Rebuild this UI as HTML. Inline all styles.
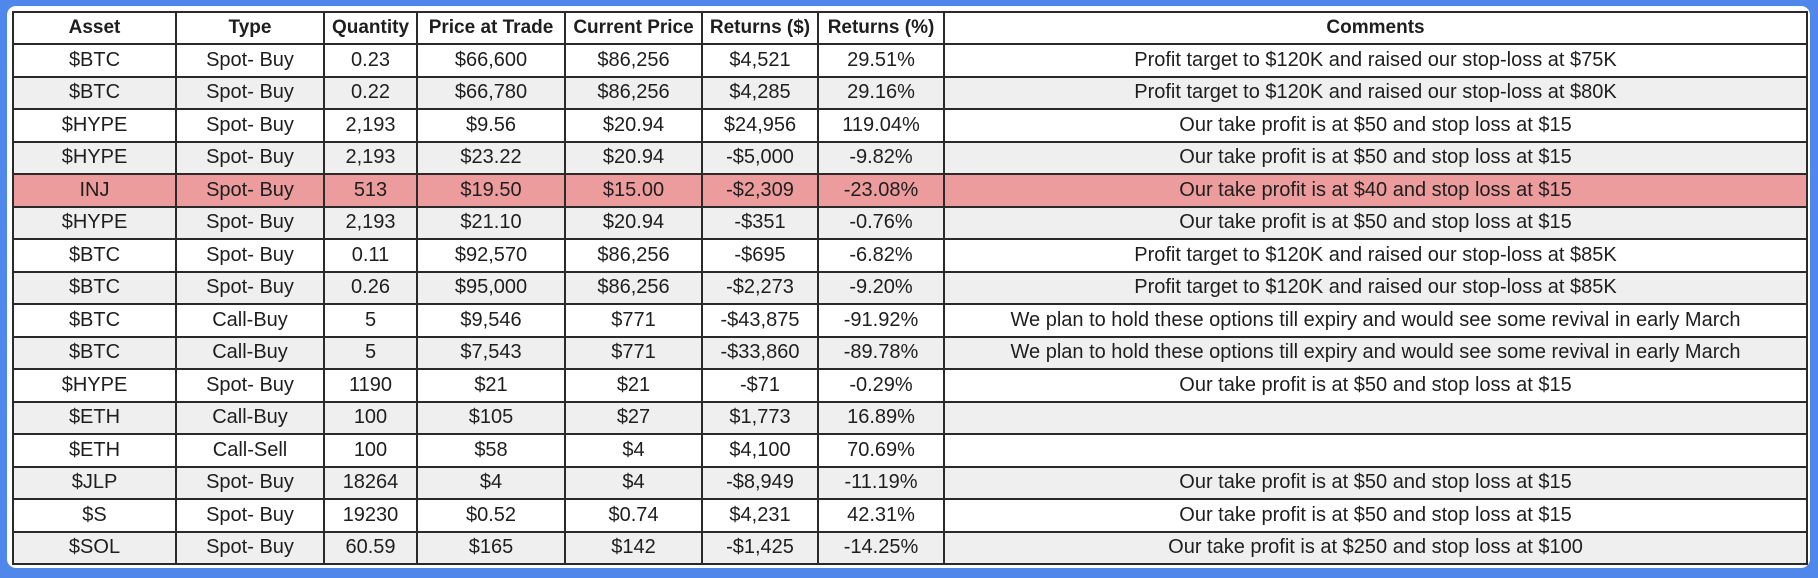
<!DOCTYPE html>
<html><head><meta charset="utf-8">
<style>
html,body{margin:0;padding:0;}
body{width:1818px;height:578px;background:#4f88ea;position:relative;overflow:hidden;font-family:"Liberation Sans",Arial,sans-serif;}
#panel{position:absolute;left:7px;top:6px;width:1803px;height:562px;background:#fff;border-radius:9px;}
table{position:absolute;left:12px;top:11px;border-collapse:collapse;table-layout:fixed;width:1794px;}
td,th{border:2px solid #2a2a2a;text-align:center;color:#1e1e1e;padding:0;white-space:nowrap;overflow:hidden;}
th{font-size:19px;font-weight:bold;height:30px;}
td{font-size:20px;height:30.5px;}
tr.alt td{background:#efefef;}
tr.hl td{background:#ec9c9c;}
</style></head><body>
<div id="panel"></div>
<table>
<colgroup><col style="width:163px"><col style="width:148px"><col style="width:93px"><col style="width:148px"><col style="width:137px"><col style="width:116px"><col style="width:126px"><col style="width:863px"></colgroup>
<tr><th>Asset</th><th>Type</th><th>Quantity</th><th>Price at Trade</th><th>Current Price</th><th>Returns ($)</th><th>Returns (%)</th><th>Comments</th></tr>
<tr><td>$BTC</td><td>Spot- Buy</td><td>0.23</td><td>$66,600</td><td>$86,256</td><td>$4,521</td><td>29.51%</td><td>Profit target to $120K and raised our stop-loss at $75K</td></tr>
<tr class="alt"><td>$BTC</td><td>Spot- Buy</td><td>0.22</td><td>$66,780</td><td>$86,256</td><td>$4,285</td><td>29.16%</td><td>Profit target to $120K and raised our stop-loss at $80K</td></tr>
<tr><td>$HYPE</td><td>Spot- Buy</td><td>2,193</td><td>$9.56</td><td>$20.94</td><td>$24,956</td><td>119.04%</td><td>Our take profit is at $50 and stop loss at $15</td></tr>
<tr class="alt"><td>$HYPE</td><td>Spot- Buy</td><td>2,193</td><td>$23.22</td><td>$20.94</td><td>-$5,000</td><td>-9.82%</td><td>Our take profit is at $50 and stop loss at $15</td></tr>
<tr class="hl"><td>INJ</td><td>Spot- Buy</td><td>513</td><td>$19.50</td><td>$15.00</td><td>-$2,309</td><td>-23.08%</td><td>Our take profit is at $40 and stop loss at $15</td></tr>
<tr class="alt"><td>$HYPE</td><td>Spot- Buy</td><td>2,193</td><td>$21.10</td><td>$20.94</td><td>-$351</td><td>-0.76%</td><td>Our take profit is at $50 and stop loss at $15</td></tr>
<tr><td>$BTC</td><td>Spot- Buy</td><td>0.11</td><td>$92,570</td><td>$86,256</td><td>-$695</td><td>-6.82%</td><td>Profit target to $120K and raised our stop-loss at $85K</td></tr>
<tr class="alt"><td>$BTC</td><td>Spot- Buy</td><td>0.26</td><td>$95,000</td><td>$86,256</td><td>-$2,273</td><td>-9.20%</td><td>Profit target to $120K and raised our stop-loss at $85K</td></tr>
<tr><td>$BTC</td><td>Call-Buy</td><td>5</td><td>$9,546</td><td>$771</td><td>-$43,875</td><td>-91.92%</td><td>We plan to hold these options till expiry and would see some revival in early March</td></tr>
<tr class="alt"><td>$BTC</td><td>Call-Buy</td><td>5</td><td>$7,543</td><td>$771</td><td>-$33,860</td><td>-89.78%</td><td>We plan to hold these options till expiry and would see some revival in early March</td></tr>
<tr><td>$HYPE</td><td>Spot- Buy</td><td>1190</td><td>$21</td><td>$21</td><td>-$71</td><td>-0.29%</td><td>Our take profit is at $50 and stop loss at $15</td></tr>
<tr class="alt"><td>$ETH</td><td>Call-Buy</td><td>100</td><td>$105</td><td>$27</td><td>$1,773</td><td>16.89%</td><td></td></tr>
<tr><td>$ETH</td><td>Call-Sell</td><td>100</td><td>$58</td><td>$4</td><td>$4,100</td><td>70.69%</td><td></td></tr>
<tr class="alt"><td>$JLP</td><td>Spot- Buy</td><td>18264</td><td>$4</td><td>$4</td><td>-$8,949</td><td>-11.19%</td><td>Our take profit is at $50 and stop loss at $15</td></tr>
<tr><td>$S</td><td>Spot- Buy</td><td>19230</td><td>$0.52</td><td>$0.74</td><td>$4,231</td><td>42.31%</td><td>Our take profit is at $50 and stop loss at $15</td></tr>
<tr class="alt"><td>$SOL</td><td>Spot- Buy</td><td>60.59</td><td>$165</td><td>$142</td><td>-$1,425</td><td>-14.25%</td><td>Our take profit is at $250 and stop loss at $100</td></tr>
</table>
</body></html>
